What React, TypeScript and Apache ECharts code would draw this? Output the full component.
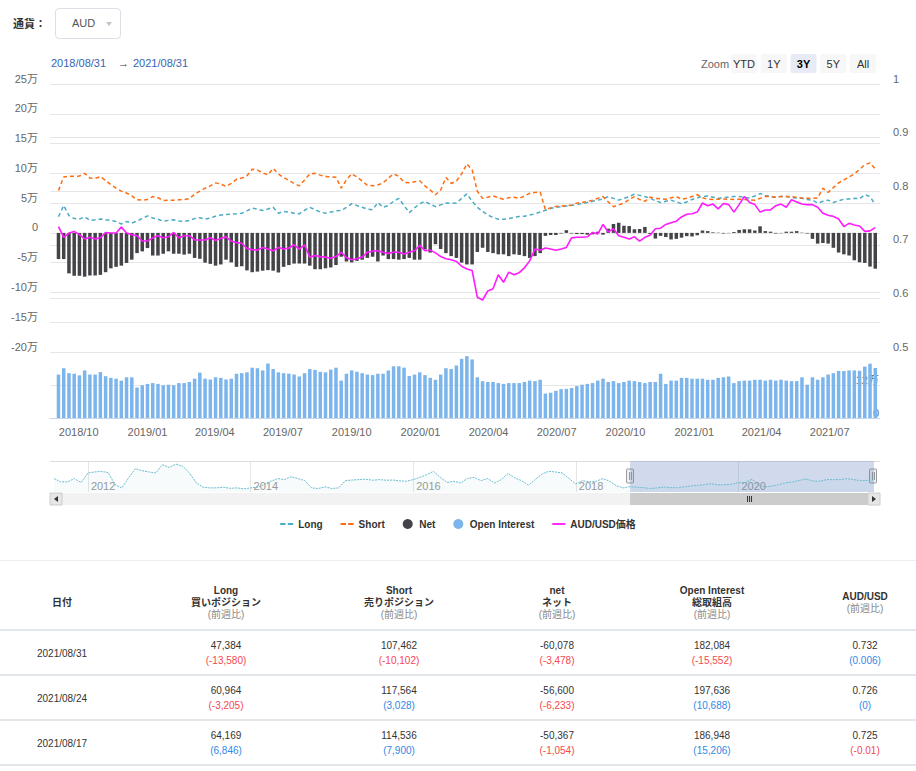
import React, { useEffect, useRef } from "react";
import * as echarts from "echarts";

// ---------------- data ----------------
const FIRST_WEEK = "2018-09-04"; // weekly (Tuesday) COT reports, 157 weeks
const X_MIN = Date.UTC(2018, 7, 26);
const X_MAX = Date.UTC(2021, 8, 4);

// values in 万 (10,000 contracts)
const longVals = [
  2.7, 4.6, 2.9, 2.4, 2.3, 2.7, 2.1, 2.2, 2.35, 2.2,
  2.1, 1.9, 1.5, 1.9, 1.65, 2.0, 2.4, 2.85, 2.5, 2.3,
  1.95, 2.1, 2.2, 2.0, 1.9, 2.1, 2.4, 2.55, 2.3, 2.5,
  2.8, 3.0, 3.1, 3.15, 3.2, 3.3, 3.7, 4.15, 4.0, 3.75,
  4.0, 4.3, 3.3, 3.6, 3.5, 3.3, 3.2, 3.8, 4.3, 3.9,
  3.5, 3.3, 3.5, 3.7, 3.75, 4.3, 4.9, 4.6, 4.3, 4.0,
  3.9, 5.1, 4.3, 4.6, 5.3, 5.8, 4.6, 3.4, 4.2, 4.9,
  5.3, 4.8, 4.4, 4.7, 5.0, 4.95, 5.0, 5.8, 6.55, 5.3,
  4.3, 3.6, 3.0, 2.6, 2.3, 2.3, 2.4, 2.6, 2.75, 2.8,
  3.0, 3.2, 3.5, 3.8, 4.1, 4.3, 4.4, 4.5, 4.6, 4.8,
  4.9, 5.1, 5.3, 5.5, 5.7, 6.1, 5.8, 5.5, 5.8, 6.1,
  6.5, 6.3, 6.1, 5.8, 5.4, 5.1, 5.3, 5.5, 5.2, 4.9,
  5.2, 5.6, 5.9, 6.1, 6.2, 6.0, 5.8, 5.9, 6.0, 6.1,
  6.1, 6.0, 5.8, 6.2, 6.6, 6.3, 6.1, 6.0, 6.1, 6.1,
  5.9, 5.85, 5.8, 5.6, 5.5, 5.0, 5.3, 5.5, 5.1, 5.4,
  5.65, 5.7, 5.8, 5.73, 6.42, 6.10, 4.74,
];

const shortVals = [
  7.1, 9.4, 9.5, 9.5, 9.55, 10.0, 9.2, 9.15, 9.45, 8.8,
  8.1, 7.5, 7.0, 6.7, 6.2, 5.55, 5.5, 5.6, 6.1, 5.9,
  5.45, 5.5, 5.5, 5.55, 5.6, 5.75, 6.5, 7.0, 7.5, 7.9,
  8.4, 8.2, 7.8, 8.3, 9.0, 9.2, 9.6, 10.7, 10.55, 10.1,
  9.75, 10.85, 9.9, 9.3, 8.8, 8.3, 7.9, 8.9, 9.9, 10.0,
  9.7, 9.45, 9.4, 9.35, 7.5, 8.9, 9.9, 9.4, 8.7, 8.0,
  7.9, 8.05, 8.4, 9.2, 9.9, 9.5, 8.5, 8.4, 8.6, 8.75,
  7.9, 7.2, 6.4, 7.2, 9.3, 8.3, 8.7, 9.9, 11.6, 10.6,
  7.0, 5.8, 6.0, 6.2, 5.9, 5.65, 5.9, 6.0, 5.8, 6.2,
  6.65, 6.8, 6.85, 3.9, 4.2, 4.45, 4.5, 4.55, 4.7, 5.0,
  5.1, 5.25, 5.5, 5.8, 6.1, 5.2, 4.4, 4.7, 5.0, 5.6,
  6.1, 5.6, 5.3, 6.0, 5.8, 5.7, 5.65, 5.9, 6.1, 5.65,
  5.8, 6.1, 6.4, 5.9, 5.65, 5.6, 5.65, 5.7, 5.65, 5.6,
  5.65, 5.6, 5.55, 5.5, 5.8, 6.1, 6.1, 6.0, 6.1, 6.1,
  6.1, 6.0, 5.85, 5.8, 5.8, 5.85, 7.5, 6.8, 7.6, 8.4,
  8.9, 9.4, 9.9, 10.66, 11.45, 11.76, 10.75,
];

const netVals = [
  -4.4, -4.4, -6.8, -7.2, -7.2, -7.35, -7.15, -7.15, -7.05, -6.6,
  -5.95, -5.7, -5.5, -5.05, -4.5, -3.4, -3.1, -2.55, -3.8, -3.8,
  -3.5, -3.1, -3.5, -3.5, -3.65, -3.5, -4.2, -4.35, -5.0, -5.2,
  -5.5, -5.3, -4.5, -4.95, -5.7, -5.6, -6.3, -6.6, -6.5, -6.35,
  -6.25, -6.35, -6.65, -5.7, -5.4, -5.15, -5.15, -5.15, -5.5, -6.1,
  -6.1, -5.95, -5.8, -5.4, -4.0, -4.8, -4.95, -4.7, -4.5, -4.2,
  -4.0, -4.8, -3.8, -4.4, -4.4, -4.5, -4.4, -4.2, -4.5, -4.5,
  -2.8, -3.3, -1.9, -2.7, -3.4, -3.9, -4.2, -5.0, -5.3, -5.3,
  -3.2, -2.5, -3.2, -3.4, -3.6, -3.6, -3.9, -3.6, -3.7, -3.9,
  -4.2, -3.9, -3.4, -0.5, -0.35, -0.35, -0.1, 0.45, -0.1, -0.2,
  -0.2, -0.3, -0.25, 0.2, -0.3, 0.7, 1.5, 1.7, 1.2, 1.15,
  0.6, 0.65, 1.0, -0.2, -0.95, -0.5, -0.7, -1.1, -1.0, -0.8,
  -0.55, -0.6, -0.4, 0.4, 0.3, 0.1, 0.05, -0.1, -0.05, 0.15,
  0.5, 0.6, 0.6, 0.4, 1.1, 0.3, 0.2, -0.1, -0.05, 0.2,
  0.2, 0.3, 0.05, -0.1, -1.0, -1.8, -1.7, -1.8, -2.5, -3.3,
  -3.6, -3.8, -4.6, -4.93, -5.04, -5.66, -6.01,
];

const oiVals = [
  15.8, 18.1, 16.3, 16.1, 15.5, 17.3, 15.8, 15.8, 16.7, 15.2,
  14.6, 14.3, 13.6, 14.8, 14.8, 11.1, 11.9, 12.4, 12.7, 12.4,
  11.9, 12.1, 11.9, 12.7, 12.7, 13.1, 14.3, 16.5, 14.3, 14.0,
  14.8, 14.6, 14.0, 14.3, 16.1, 16.3, 16.6, 18.3, 18.1, 17.3,
  19.8, 17.8, 16.6, 16.3, 16.1, 15.8, 15.1, 16.3, 17.8, 17.5,
  16.8, 16.6, 17.6, 18.3, 13.6, 16.1, 17.3, 16.8, 16.3, 15.8,
  15.6, 16.1, 16.1, 17.3, 18.8, 18.8, 18.3, 15.3, 15.8, 16.6,
  15.6, 14.6, 13.9, 15.8, 18.1, 17.8, 19.1, 21.5, 22.5, 21.3,
  14.8, 13.4, 13.1, 13.1, 12.7, 12.4, 12.7, 12.7, 12.7, 13.1,
  13.6, 13.4, 13.9, 8.9, 9.2, 9.9, 10.5, 10.6, 10.9, 11.6,
  12.1, 12.4, 12.7, 13.6, 14.3, 13.1, 13.4, 12.7, 13.1, 13.6,
  13.4, 13.1, 12.7, 13.1, 13.1, 16.1, 12.4, 13.6, 13.6, 14.6,
  14.6, 14.3, 14.3, 14.3, 13.9, 13.9, 14.6, 14.8, 15.1, 12.7,
  13.4, 13.6, 13.6, 13.9, 13.9, 13.6, 13.9, 13.6, 13.9, 13.6,
  13.4, 13.4, 14.8, 12.1, 14.8, 13.9, 14.8, 15.8, 16.3, 17.1,
  17.1, 17.3, 17.3, 17.17, 18.69, 19.76, 18.21,
];

const priceVals = [
  0.734, 0.714, 0.722, 0.725, 0.719, 0.711, 0.714, 0.711, 0.713, 0.723,
  0.722, 0.722, 0.733, 0.722, 0.719, 0.717, 0.707, 0.707, 0.713, 0.717,
  0.713, 0.715, 0.723, 0.713, 0.717, 0.717, 0.709, 0.709, 0.709, 0.713,
  0.708, 0.712, 0.715, 0.707, 0.704, 0.703, 0.693, 0.691, 0.690, 0.695,
  0.692, 0.689, 0.695, 0.692, 0.694, 0.700, 0.692, 0.700, 0.677, 0.680,
  0.678, 0.677, 0.675, 0.678, 0.686, 0.676, 0.672, 0.674, 0.677, 0.686,
  0.688, 0.689, 0.686, 0.684, 0.686, 0.686, 0.683, 0.686, 0.689, 0.699,
  0.689, 0.690, 0.685, 0.678, 0.674, 0.672, 0.669, 0.660, 0.655, 0.652,
  0.602, 0.597, 0.614, 0.618, 0.644, 0.630, 0.649, 0.644, 0.648, 0.657,
  0.670, 0.692, 0.690, 0.694, 0.692, 0.690, 0.692, 0.695, 0.713, 0.714,
  0.714, 0.715, 0.723, 0.720, 0.738, 0.724, 0.730, 0.717, 0.714, 0.711,
  0.715, 0.707, 0.714, 0.718, 0.730, 0.731, 0.738, 0.741, 0.744, 0.752,
  0.757, 0.758, 0.761, 0.778, 0.773, 0.776, 0.767, 0.777, 0.775, 0.761,
  0.775, 0.790, 0.779, 0.775, 0.761, 0.765, 0.765, 0.773, 0.776, 0.770,
  0.784, 0.780, 0.776, 0.775, 0.775, 0.770, 0.759, 0.755, 0.753, 0.748,
  0.734, 0.740, 0.737, 0.735, 0.725, 0.726, 0.732,
];

// navigator (month-end samples from 2011/07/31 to 2021/08/31), Long in 万
const navLongVals = [
  6.5, 4.9, 4.9, 6.5, 4.6, 9.2, 9.7, 10.0, 9.4, 3.6,
  2.0, 6.8, 11.3, 10.3, 9.7, 9.2, 13.2, 11.9, 13.5, 12.4,
  9.2, 4.4, 2.3, 2.0, 2.0, 2.3, 1.8, 2.0, 1.5, 2.0,
  2.3, 3.6, 5.2, 6.5, 6.0, 7.4, 6.5, 5.5, 2.0, 1.7,
  2.5, 1.7, 2.0, 5.5, 5.8, 6.0, 6.2, 5.7, 6.0, 5.7,
  5.8, 5.4, 5.2, 6.0, 7.1, 8.4, 10.0, 7.1, 4.6, 5.2,
  4.4, 6.5, 7.1, 5.5, 6.5, 4.4, 6.0, 9.0, 6.8, 5.5,
  3.3, 6.0, 8.7, 10.0, 9.7, 9.2, 6.5, 3.9, 5.5, 4.9,
  5.2, 6.5, 5.2, 3.0, 2.0, 2.6, 2.3, 2.1, 1.7, 2.0,
  2.4, 2.1, 2.1, 2.5, 2.9, 3.2, 3.6, 4.0, 3.4, 3.5,
  3.8, 4.5, 4.6, 6.2, 3.2, 2.5, 2.9, 3.6, 4.5, 4.9,
  5.6, 6.3, 5.3, 5.2, 6.0, 6.0, 6.0, 6.5, 6.0, 5.5,
  5.6, 5.9,
];
const NAV_SEL_START = "2018/08/31";
const NAV_SEL_END = "2021/08/31";

const zoomButtons = ["YTD", "1Y", "3Y", "5Y", "All"];
const zoomSelected = "3Y";
const rangeFrom = "2018/08/31";
const rangeTo = "2021/08/31";

// table
const tableDates = ["2021/08/31", "2021/08/24", "2021/08/17"];
const tableLong = [47384, 60964, 64169];
const tableLongChg = [-13580, -3205, 6846];
const tableShort = [107462, 117564, 114536];
const tableShortChg = [-10102, 3028, 7900];
const tableNet = [-60078, -56600, -50367];
const tableNetChg = [-3478, -6233, -1054];
const tableOI = [182084, 197636, 186948];
const tableOIChg = [-15552, 10688, 15206];
const tablePx = ["0.732", "0.726", "0.725"];
const tablePxChg = [0.006, 0, -0.01];

// ---------------- helpers ----------------
const DAY = 86400000;
const FONT = "'Liberation Sans', Arial, 'Noto Sans CJK JP', sans-serif";
const pad2 = (n: number) => String(n).padStart(2, "0");
const weekDates = longVals.map((_, i) => Date.parse(FIRST_WEEK + "T00:00:00Z") + i * 7 * DAY);
const navDates = navLongVals.map((_, i) => {
  const d = new Date(Date.UTC(2011, 7 + i, 0));
  return `${d.getUTCFullYear()}/${pad2(d.getUTCMonth() + 1)}/${pad2(d.getUTCDate())}`;
});
const navYearTick = (_: number, v: string) => {
  const p = v.split("/");
  return p[1] === "12" && (Number(p[0]) + 1) % 2 === 0;
};
const man = (v: number) => (v === 0 ? "0" : v + "万");
const DASH_ICON = "path://M0,0h5v2h-5zM7,0h5v2h-5z";
const LINE_ICON = "path://M0,0h14v2h-14z";

function buildOption(): any {
  const axisLabelBase = { color: "#666", fontSize: 11, fontFamily: FONT };
  const grid = { lineStyle: { color: "#e6e6e6", width: 1 } };
  return {
    animation: false,
    useUTC: true,
    textStyle: { fontFamily: FONT },
    legend: {
      top: 514,
      left: "center",
      itemGap: 18,
      itemWidth: 13,
      itemHeight: 10,
      textStyle: { fontWeight: "bold", fontSize: 10, color: "#333", fontFamily: FONT },
      data: [
        { name: "Long", icon: DASH_ICON },
        { name: "Short", icon: DASH_ICON },
        { name: "Net", icon: "circle" },
        { name: "Open Interest", icon: "circle" },
        { name: "AUD/USD価格", icon: LINE_ICON },
      ],
    },
    grid: [
      { left: 50, right: 36, top: 84, height: 268 },
      { left: 50, right: 36, top: 352, height: 66 },
      { left: 54, width: 820, top: 461, height: 31 },
    ],
    xAxis: [
      { type: "time", gridIndex: 0, min: X_MIN, max: X_MAX, show: false },
      {
        type: "time",
        gridIndex: 1,
        min: X_MIN,
        max: X_MAX,
        minInterval: 92 * DAY,
        maxInterval: 92 * DAY,
        axisLine: { lineStyle: { color: "#ccd6eb" } },
        axisTick: { show: false },
        splitLine: { show: false },
        axisLabel: {
          ...axisLabelBase,
          margin: 8,
          showMinLabel: false,
          showMaxLabel: false,
          formatter: (v: number) => {
            const d = new Date(v);
            return `${d.getUTCFullYear()}/${pad2(d.getUTCMonth() + 1)}`;
          },
        },
      },
      {
        type: "category",
        gridIndex: 2,
        data: navDates,
        boundaryGap: false,
        axisLine: { show: false },
        axisTick: { show: false },
        axisLabel: {
          inside: true,
          interval: navYearTick,
          formatter: (v: string) => String(Number(v.split("/")[0]) + 1),
          color: "#999",
          fontSize: 11,
          fontFamily: FONT,
          align: "left",
          padding: [0, 0, 0, 3],
          margin: 1,
        },
        splitLine: { show: true, interval: navYearTick, lineStyle: { color: "#e6e6e6" } },
      },
    ],
    yAxis: [
      {
        type: "value",
        gridIndex: 0,
        position: "left",
        min: -20,
        max: 25,
        interval: 5,
        axisLine: { show: false },
        axisTick: { show: false },
        splitLine: grid,
        axisLabel: { ...axisLabelBase, margin: 12, verticalAlign: "bottom", formatter: man },
      },
      {
        type: "value",
        gridIndex: 0,
        position: "right",
        min: 0.5,
        max: 1,
        interval: 0.1,
        axisLine: { show: false },
        axisTick: { show: false },
        splitLine: grid,
        axisLabel: {
          ...axisLabelBase,
          margin: 13,
          verticalAlign: "bottom",
          formatter: (v: number) => String(Math.round(v * 10) / 10),
        },
      },
      {
        type: "value",
        gridIndex: 1,
        position: "right",
        min: 0,
        max: 24,
        interval: 12,
        axisLine: { show: false },
        axisTick: { show: false },
        splitLine: grid,
        axisLabel: {
          ...axisLabelBase,
          inside: true,
          margin: 1,
          verticalAlign: "bottom",
          showMaxLabel: false,
          formatter: man,
        },
      },
      { type: "value", gridIndex: 2, min: 0, max: 15, show: false },
    ],
    series: [
      {
        name: "Net",
        type: "bar",
        xAxisIndex: 0,
        yAxisIndex: 0,
        barWidth: 3.5,
        itemStyle: { color: "#434348" },
        data: weekDates.map((t, i) => [t, netVals[i]]),
      },
      {
        name: "Long",
        type: "line",
        xAxisIndex: 0,
        yAxisIndex: 0,
        symbol: "none",
        itemStyle: { color: "#4bacc6" },
        lineStyle: { color: "#4bacc6", width: 1.5, type: [4, 3] },
        data: weekDates.map((t, i) => [t, longVals[i]]),
      },
      {
        name: "Short",
        type: "line",
        xAxisIndex: 0,
        yAxisIndex: 0,
        symbol: "none",
        itemStyle: { color: "#ff6c12" },
        lineStyle: { color: "#ff6c12", width: 1.5, type: [4, 3] },
        data: weekDates.map((t, i) => [t, shortVals[i]]),
      },
      {
        name: "AUD/USD価格",
        type: "line",
        xAxisIndex: 0,
        yAxisIndex: 1,
        symbol: "none",
        itemStyle: { color: "#ff1aff" },
        lineStyle: { color: "#ff1aff", width: 1.6 },
        data: weekDates.map((t, i) => [t, priceVals[i]]),
      },
      {
        name: "Open Interest",
        type: "bar",
        xAxisIndex: 1,
        yAxisIndex: 2,
        barWidth: 3.5,
        itemStyle: { color: "#7cb5ec" },
        data: weekDates.map((t, i) => [t, oiVals[i]]),
      },
      {
        name: "navigator",
        type: "line",
        xAxisIndex: 2,
        yAxisIndex: 3,
        symbol: "none",
        silent: true,
        lineStyle: { color: "#6bbccf", width: 1, type: [2, 1] },
        areaStyle: { color: "rgba(75,172,198,0.07)" },
        data: navLongVals,
        markArea: {
          silent: true,
          itemStyle: { color: "rgba(102,133,194,0.3)" },
          data: [[{ xAxis: NAV_SEL_START }, { xAxis: NAV_SEL_END }]],
        },
      },
    ],
  };
}

function buildGraphics(xl: number, xr: number): any[] {
  const g: any[] = [];
  const txt = (x: number, y: number, text: string, fill: string, extra: any = {}) => ({
    type: "text",
    x,
    y,
    style: { text, fill, fontSize: 11, fontFamily: FONT, verticalAlign: "middle", ...extra },
  });
  // date range
  g.push(txt(51, 63, rangeFrom, "#3565b5"));
  g.push(txt(118, 63, "→", "#333"));
  g.push(txt(133, 63, rangeTo, "#3565b5"));
  // zoom buttons
  g.push(txt(701, 64, "Zoom", "#666"));
  zoomButtons.forEach((b, i) => {
    const x = 731 + i * 29.75;
    const sel = b === zoomSelected;
    g.push({
      type: "rect",
      shape: { x, y: 54, width: 26, height: 19, r: 2 },
      style: { fill: sel ? "#e6ebf5" : "#f7f7f7" },
    });
    g.push(
      txt(x + 13, 64, b, sel ? "#000" : "#333", {
        align: "center",
        fontWeight: sel ? "bold" : "normal",
      })
    );
  });
  // navigator outline
  g.push({
    type: "line",
    shape: { x1: 50, y1: 461.5, x2: 880, y2: 461.5 },
    style: { stroke: "#dddddd", lineWidth: 1 },
  });
  // scrollbar
  g.push({ type: "rect", shape: { x: 50, y: 493, width: 830, height: 12 }, style: { fill: "#f2f2f2" } });
  g.push({
    type: "rect",
    shape: { x: xl, y: 493, width: 868 - xl, height: 12 },
    style: { fill: "#cccccc" },
  });
  const mid = (xl + 868) / 2;
  [-2, 0, 2].forEach((d) =>
    g.push({
      type: "line",
      shape: { x1: mid + d + 0.5, y1: 496, x2: mid + d + 0.5, y2: 502 },
      style: { stroke: "#333", lineWidth: 1 },
    })
  );
  g.push({
    type: "rect",
    shape: { x: 50, y: 493, width: 12, height: 12 },
    style: { fill: "#e6e6e6", stroke: "#cccccc", lineWidth: 1 },
  });
  g.push({
    type: "polygon",
    shape: { points: [[58, 496], [58, 502], [54, 499]] },
    style: { fill: "#333" },
  });
  g.push({
    type: "rect",
    shape: { x: 868, y: 493, width: 12, height: 12 },
    style: { fill: "#e6e6e6", stroke: "#cccccc", lineWidth: 1 },
  });
  g.push({
    type: "polygon",
    shape: { points: [[872, 496], [872, 502], [876, 499]] },
    style: { fill: "#333" },
  });
  // handles
  [xl, Math.min(xr, 873)].forEach((x) => {
    g.push({
      type: "rect",
      shape: { x: x - 3.5, y: 469, width: 7, height: 14, r: 1 },
      style: { fill: "#f2f2f2", stroke: "#999", lineWidth: 1 },
    });
    [-1, 1].forEach((d) =>
      g.push({
        type: "line",
        shape: { x1: x + d + 0.5, y1: 472, x2: x + d + 0.5, y2: 480 },
        style: { stroke: "#999", lineWidth: 1 },
      })
    );
  });
  return g;
}

// ---------------- table ----------------
const COLS = [62, 226, 399, 557, 712, 865];
const HEADERS: string[][] = [
  ["日付"],
  ["Long", "買いポジション", "(前週比)"],
  ["Short", "売りポジション", "(前週比)"],
  ["net", "ネット", "(前週比)"],
  ["Open Interest", "総取組高", "(前週比)"],
  ["AUD/USD", "(前週比)"],
];
const RED = "#f5474f";
const BLUE = "#2f88e6";
const fmt = (n: number) => n.toLocaleString("en-US");

function Cell({ x, children }: { x: number; children: any }) {
  return (
    <div
      style={{
        position: "absolute",
        left: x,
        top: "50%",
        transform: "translate(-50%, -50%)",
        textAlign: "center",
        whiteSpace: "nowrap",
      }}
    >
      {children}
    </div>
  );
}

function Table() {
  const rows = tableDates.map((d, i) => ({
    date: d,
    vals: [
      [fmt(tableLong[i]), tableLongChg[i], fmt(tableLongChg[i])],
      [fmt(tableShort[i]), tableShortChg[i], fmt(tableShortChg[i])],
      [fmt(tableNet[i]), tableNetChg[i], fmt(tableNetChg[i])],
      [fmt(tableOI[i]), tableOIChg[i], fmt(tableOIChg[i])],
      [tablePx[i], tablePxChg[i], String(tablePxChg[i])],
    ] as [string, number, string][],
  }));
  return (
    <div
      style={{
        position: "absolute",
        left: 0,
        top: 560,
        width: 916,
        fontFamily: FONT,
        fontSize: 10,
        color: "#333",
      }}
    >
      <div
        style={{
          position: "relative",
          height: 68,
          borderTop: "1px solid #ebeef2",
          borderBottom: "2px solid #e1e7eb",
        }}
      >
        {HEADERS.map((h, ci) => (
          <div
            key={ci}
            style={{
              position: "absolute",
              left: COLS[ci],
              top: 42,
              transform: "translate(-50%, -50%)",
              textAlign: "center",
              whiteSpace: "nowrap",
              lineHeight: "12px",
            }}
          >
            {h.map((t, k) => (
              <div
                key={k}
                style={{
                  fontWeight: t === "(前週比)" ? "normal" : "bold",
                  color: t === "(前週比)" ? "#888" : "#333",
                }}
              >
                {t}
              </div>
            ))}
          </div>
        ))}
      </div>
      {rows.map((r, ri) => (
        <div key={ri} style={{ position: "relative", height: 43, borderBottom: "2px solid #e1e7eb" }}>
          <Cell x={COLS[0]}>{r.date}</Cell>
          {r.vals.map((v, ci) => (
            <Cell key={ci} x={COLS[ci + 1]}>
              <div style={{ lineHeight: "15px" }}>{v[0]}</div>
              <div style={{ lineHeight: "15px", color: v[1] < 0 ? RED : BLUE }}>({v[2]})</div>
            </Cell>
          ))}
        </div>
      ))}
    </div>
  );
}

export default function App() {
  const ref = useRef<HTMLDivElement>(null);
  useEffect(() => {
    if (!ref.current) return;
    const chart = echarts.init(ref.current, null, { renderer: "svg" });
    chart.setOption(buildOption());
    const xl = chart.convertToPixel({ xAxisIndex: 2 } as any, NAV_SEL_START) as unknown as number;
    const xr = chart.convertToPixel({ xAxisIndex: 2 } as any, NAV_SEL_END) as unknown as number;
    chart.setOption({ graphic: buildGraphics(xl, xr) });
    return () => chart.dispose();
  }, []);
  return (
    <div style={{ position: "relative", width: 916, height: 771, background: "#fff", fontFamily: FONT }}>
      <style>{"body{margin:0;}"}</style>
      <div ref={ref} style={{ position: "absolute", left: 0, top: 0, width: 916, height: 550 }} />
      <div
        style={{
          position: "absolute",
          left: 13,
          top: 15,
          fontSize: 11,
          fontWeight: "bold",
          color: "#333",
          lineHeight: "16px",
          fontFamily: "'Noto Sans CJK JP', sans-serif",
        }}
      >
        通貨：
      </div>
      <div
        style={{
          position: "absolute",
          left: 55,
          top: 8,
          width: 64,
          height: 29,
          border: "1px solid #dcdfe6",
          borderRadius: 4,
          background: "#fff",
        }}
      >
        <span
          style={{
            position: "absolute",
            left: 16,
            top: 7,
            fontSize: 11,
            color: "#555",
            lineHeight: "15px",
          }}
        >
          AUD
        </span>
        <span
          style={{
            position: "absolute",
            left: 50,
            top: 13,
            width: 0,
            height: 0,
            borderLeft: "3px solid transparent",
            borderRight: "3px solid transparent",
            borderTop: "4px solid #c0c4cc",
          }}
        />
      </div>
      <Table />
    </div>
  );
}
